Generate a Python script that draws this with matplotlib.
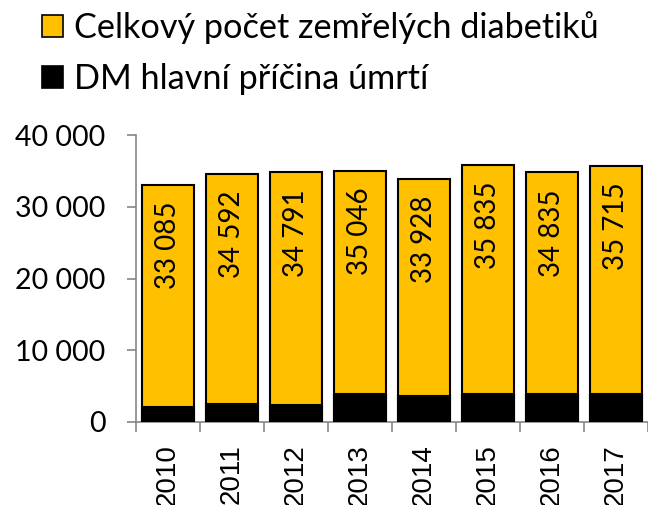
import matplotlib
matplotlib.use("Agg")
import matplotlib.pyplot as plt
from matplotlib.patches import Patch
import numpy as np

years = ["2010", "2011", "2012", "2013", "2014", "2015", "2016", "2017"]
total = [33085, 34592, 34791, 35046, 33928, 35835, 34835, 35715]
dm_main = [2050, 2500, 2370, 3860, 3620, 3860, 3900, 3860]
yticks = [0, 10000, 20000, 30000, 40000]
ytick_labels = ["0", "10 000", "20 000", "30 000", "40 000"]
legend_labels = ["Celkový počet zemřelých diabetiků", "DM hlavní příčina úmrtí"]

YELLOW = "#FFC000"
GREY = "#868686"
FONT = "Lato"

fig = plt.figure(figsize=(6.48, 5.05), dpi=100)
ax = fig.add_axes([136/648, 1-422/505, 1-136/648, (422-135)/505])

x = np.arange(len(years))
w = 0.81
ax.bar(x, total, width=w, color=YELLOW, edgecolor="black", linewidth=1.5, zorder=2)
ax.bar(x, dm_main, width=w, color="black", edgecolor="black", linewidth=1.5, zorder=3)

def fmt(v):
    return f"{v:,}".replace(",", " ")

for xi, v in zip(x, total):
    ax.annotate(fmt(v), (xi, v), xytext=(0, -17), textcoords="offset pixels",
                rotation=90, ha="center", va="top", fontsize=20, family=FONT, zorder=4)

ax.set_xlim(-0.5, (648-136)/65 - 0.5)
ax.set_ylim(0, 40000)
ax.set_yticks(yticks)
ax.set_yticklabels(ytick_labels, family=FONT, fontsize=20.5)
ax.set_xticks(x)
ax.set_xticklabels(years, rotation=90, family="Liberation Sans", fontsize=20)
ax.set_xticks(np.arange(-0.5, len(years), 1.0), minor=True)
ax.tick_params(axis="x", which="major", length=0, pad=16)
ax.tick_params(axis="x", which="minor", length=7, width=1.2, color=GREY, direction="out")
ax.tick_params(axis="y", length=6.5, width=1.2, color=GREY, direction="out", pad=15.5)

for s in ["top", "right"]:
    ax.spines[s].set_visible(False)
for s in ["left", "bottom"]:
    ax.spines[s].set_color(GREY)
    ax.spines[s].set_linewidth(1.2)

handles = [Patch(facecolor=YELLOW, edgecolor="black", linewidth=1.2),
           Patch(facecolor="black", edgecolor="black", linewidth=1.2)]
fig.legend(handles, legend_labels, loc="upper left", bbox_to_anchor=(42/648, 1 - 11/505),
           frameon=False, prop={"family": FONT, "size": 24.7}, handlelength=0.62,
           handleheight=0.62, handletextpad=0.31, labelspacing=0.55, borderpad=0,
           borderaxespad=0)

fig.savefig("out.png", dpi=100)
